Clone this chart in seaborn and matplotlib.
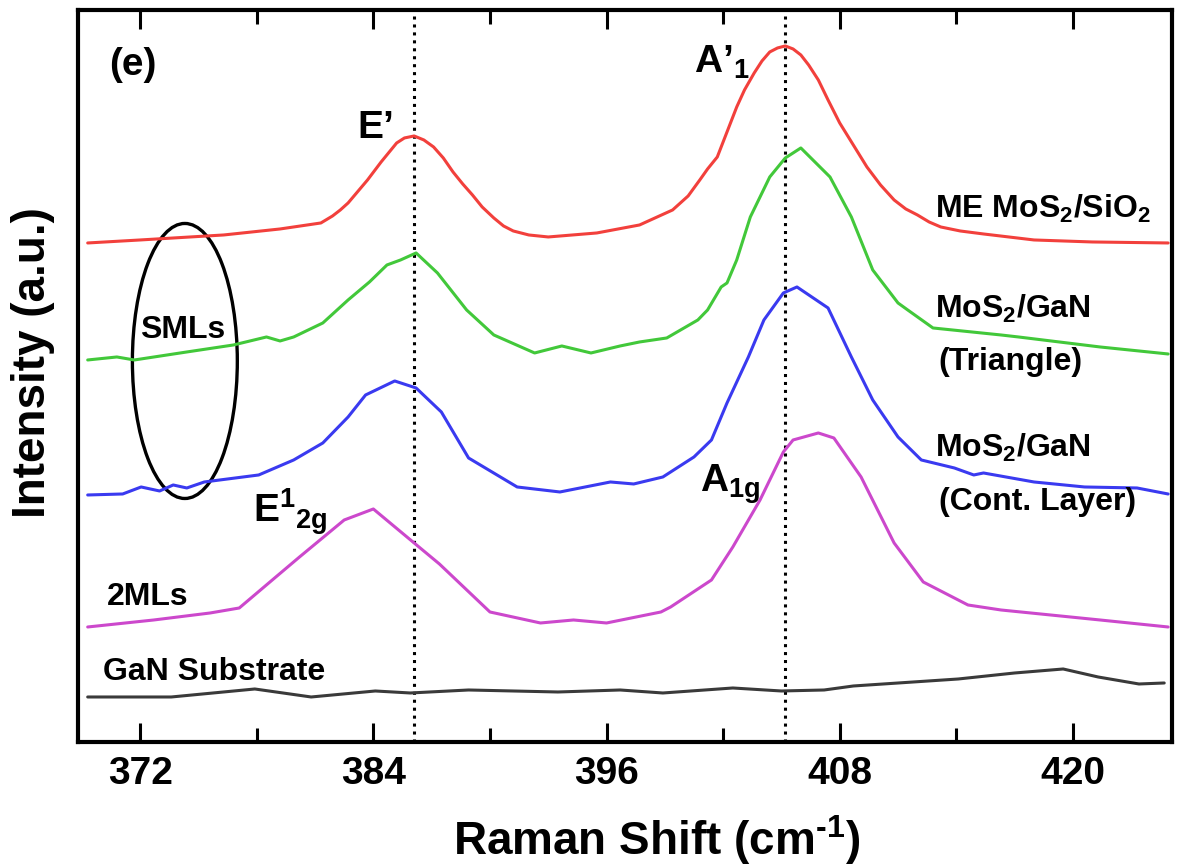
import numpy as np
import pandas as pd
import matplotlib.pyplot as plt
import seaborn as sns
from matplotlib.patches import Ellipse
from matplotlib.ticker import MultipleLocator

sns.set_style("ticks")
plt.rcParams['font.family'] = ['Liberation Sans', 'DejaVu Sans']
plt.rcParams['font.weight'] = 'bold'
plt.rcParams['text.color'] = 'black'
plt.rcParams['axes.labelcolor'] = 'black'
plt.rcParams['xtick.color'] = 'black'
plt.rcParams['mathtext.fontset'] = 'custom'
plt.rcParams['mathtext.rm'] = 'Liberation Sans:bold'
plt.rcParams['mathtext.it'] = 'Liberation Sans:bold'
plt.rcParams['mathtext.bf'] = 'Liberation Sans:bold'

# Raman spectra (offset stacked, a.u.)
me_x = [369.3, 372.0, 376.3, 379.2, 381.3, 381.9, 382.3, 382.7, 383.7, 384.4, 385.2, 385.6,
        386.1, 386.6, 387.1, 387.6, 388.1, 388.6, 389.1, 389.6, 390.2, 390.7, 391.2, 392.0,
        393.0, 395.5, 397.7, 399.4, 400.2, 400.8, 401.2, 401.7, 402.2, 402.7, 403.1, 403.6,
        404.0, 404.4, 404.8, 405.2, 405.6, 406.0, 406.4, 406.9, 407.4, 408.0, 408.7, 409.4,
        410.1, 410.8, 411.4, 412.0, 412.6, 413.2, 414.2, 415.4, 418.0, 421.0, 424.9]
me_y = [499, 502, 507, 513, 519, 526, 532, 539, 562, 580, 599, 604,
        606, 602, 595, 584, 570, 558, 547, 535, 524, 516, 511, 507,
        505, 509, 517, 532, 546, 562, 573, 585, 610, 635, 652, 669,
        681, 690, 694, 696, 693, 687, 677, 662, 642, 619, 597, 575,
        557, 542, 533, 527, 520, 515, 511, 508, 502, 500, 499]

tri_x = [369.3, 370.8, 371.7, 374.4, 376.8, 378.5, 379.2, 379.9, 381.4, 382.7, 383.8, 384.7,
         385.4, 386.2, 387.3, 388.8, 390.2, 392.3, 393.7, 395.2, 396.7, 397.7, 399.1, 400.7,
         401.2, 401.9, 402.2, 402.7, 403.4, 404.4, 405.2, 406.0, 407.5, 408.6, 409.7, 411.0,
         411.5, 412.8, 416.3, 417.2, 421.4, 424.9]
tri_y = [382, 385, 382, 390, 397, 405, 401, 405, 419, 442, 460, 477,
         482, 489, 469, 432, 407, 389, 396, 389, 396, 400, 404, 422,
         432, 455, 459, 482, 525, 565, 584, 594, 565, 525, 472, 439,
         432, 414, 407, 405, 395, 388]

cont_x = [369.3, 371.1, 372.05, 373.0, 373.7, 374.4, 375.3, 378.1, 379.9, 381.4, 382.7, 383.6,
          385.1, 386.2, 387.5, 388.9, 391.4, 393.6, 396.2, 397.4, 398.9, 400.5, 401.4, 402.2,
          403.3, 404.1, 405.1, 405.8, 407.4, 408.6, 409.7, 411.0, 412.2, 413.9, 414.9, 415.4,
          418.0, 420.6, 423.3, 424.9]
cont_y = [247, 248, 255, 251, 257, 254, 260, 267, 282, 299, 325, 347,
          361, 354, 330, 284, 255, 250, 260, 258, 265, 285, 302, 339,
          385, 422, 449, 455, 434, 385, 342, 305, 282, 274, 267, 269,
          260, 255, 254, 248]

bi_x = [369.3, 372.7, 375.6, 377.1, 378.8, 380.2, 382.5, 384.0, 386.1, 387.4, 390.0, 392.6,
        394.3, 396.0, 398.8, 399.3, 401.4, 402.5, 403.9, 405.1, 405.6, 406.9, 407.7, 409.1,
        410.8, 412.3, 414.6, 416.3, 421.4, 424.9]
bi_y = [115, 122, 129, 134, 162, 185, 222, 233, 199, 178, 130, 119,
        122, 119, 130, 135, 162, 195, 242, 290, 302, 309, 304, 265,
        199, 160, 137, 132, 122, 115]

gan_x = [369.3, 373.6, 377.9, 380.8, 384.1, 385.9, 388.9, 393.5, 396.7, 398.9, 402.5, 405.0,
         407.2, 408.7, 414.1, 417.0, 419.5, 421.3, 423.4, 424.7]
gan_y = [45, 45, 53, 45, 51, 49, 52, 50, 52, 49, 54, 51,
         52, 56, 63, 69, 73, 65, 58, 59]

samples = ["ME MoS2/SiO2", "MoS2/GaN triangle", "MoS2/GaN cont.", "2MLs", "GaN"]
colors = ["#f2403c", "#42c83a", "#3a3af0", "#cc48cc", "#3a3a3a"]
peak_lines = [386.1, 405.2]

df = pd.concat([
    pd.DataFrame({"shift": me_x, "intensity": me_y, "sample": samples[0]}),
    pd.DataFrame({"shift": tri_x, "intensity": tri_y, "sample": samples[1]}),
    pd.DataFrame({"shift": cont_x, "intensity": cont_y, "sample": samples[2]}),
    pd.DataFrame({"shift": bi_x, "intensity": bi_y, "sample": samples[3]}),
    pd.DataFrame({"shift": gan_x, "intensity": gan_y, "sample": samples[4]}),
])

fig = plt.figure(figsize=(11.78, 8.66), dpi=100)
ax = fig.add_axes([0.0662, 0.1432, 0.9287, 0.8453])

sns.lineplot(data=df, x="shift", y="intensity", hue="sample", hue_order=samples,
             palette=colors, estimator=None, sort=True, lw=2.2, legend=False, ax=ax)

for xv in peak_lines:
    ax.axvline(xv, color="black", lw=2.2, linestyle=(0, (1, 1.6)), zorder=1)

ax.add_patch(Ellipse((374.3, 381), 5.4, 275, fill=False, edgecolor="black", lw=2.4))

ax.set_xlim(368.8, 425.1)
ax.set_ylim(0, 732)
ax.set_yticks([])
ax.xaxis.set_major_locator(MultipleLocator(12))
ax.xaxis.set_minor_locator(MultipleLocator(6))
ax.tick_params(axis="x", which="major", direction="in", length=14, width=2.2, top=True,
               labelsize=28, pad=10)
ax.tick_params(axis="x", which="minor", direction="in", length=10, width=2.2, top=True)
for sp in ax.spines.values():
    sp.set_linewidth(3)
    sp.set_color("black")

ax.set_xlabel("Raman Shift (cm$^{\\text{-}1}$)", fontsize=33, fontweight="bold")
ax.set_ylabel("Intensity (a.u.)", fontsize=33, fontweight="bold")
ax.xaxis.set_label_coords(0.529, -0.097)
ax.yaxis.set_label_coords(-0.021, 0.518)

ax.text(370.4, 667, "(e)", fontsize=28)
ax.text(383.2, 604, "E’", fontsize=28)
ax.text(400.5, 669, "A’$_1$", fontsize=28)
ax.text(377.8, 219, "E$^{1}$$_{2g}$", fontsize=28)
ax.text(400.8, 250, "A$_{1g}$", fontsize=28)

ax.text(412.9, 524, "ME MoS$_2$/SiO$_2$", fontsize=23)
ax.text(412.9, 424, "MoS$_2$/GaN", fontsize=23)
ax.text(413.1, 372, "(Triangle)", fontsize=23)
ax.text(412.9, 285, "MoS$_2$/GaN", fontsize=23)
ax.text(413.1, 232, "(Cont. Layer)", fontsize=23)
ax.text(374.2, 404, "SMLs", fontsize=23, ha="center")
ax.text(370.3, 137, "2MLs", fontsize=23)
ax.text(370.1, 62, "GaN Substrate", fontsize=23)

plt.savefig("out.png", dpi=100)
plt.close()
